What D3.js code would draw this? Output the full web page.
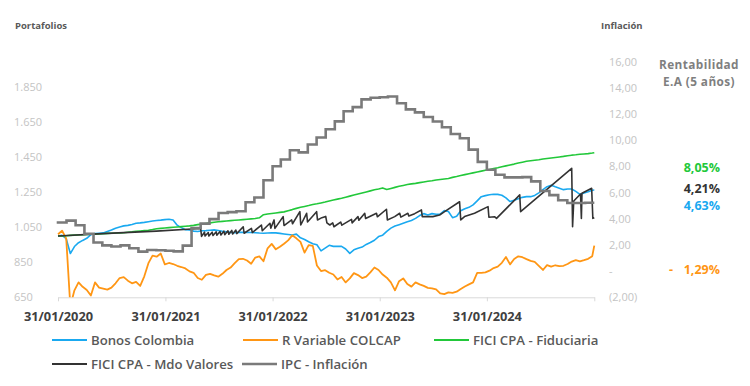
<!DOCTYPE html>
<html>
<head>
<meta charset="utf-8">
<script src="https://cdn.jsdelivr.net/npm/d3@7"></script>
<style>
    body { margin: 0; background: #fff; }
    text { font-family: "Open Sans", sans-serif; }
</style>
</head>
<body>
<div id="chart"></div>
<script>

// ---- data ----

// Portfolio series sampled every 14 days from 31/01/2020, last point = 31/01/2025
const startDate = "2020-01-31";
const endDate = "2025-01-31";
const gridStepDays = 14;

const bonosColombia = [
    1000, 1004, 985, 900, 940, 962, 975, 987, 1008, 1014,
    1016, 1018, 1026, 1034, 1045, 1052, 1058, 1061, 1066, 1073,
    1075, 1078, 1082, 1086, 1089, 1091, 1094, 1096, 1092, 1062,
    1048, 1036, 1035, 1028, 1026, 1030, 1031, 1033, 1035, 1032,
    1027, 1024, 1021, 1019, 1021, 1022, 1021, 1020, 1019, 1017,
    1016, 1017, 1018, 1018, 1015, 1012, 1009, 1006, 1011, 990,
    980, 967, 956, 950, 915, 931, 947, 941, 942, 941,
    926, 901, 921, 930, 937, 952, 963, 976, 997, 1005,
    1027, 1045, 1057, 1065, 1073, 1081, 1089, 1101, 1117, 1128,
    1120, 1128, 1124, 1125, 1145, 1140, 1105, 1113, 1145, 1156,
    1164, 1178, 1201, 1225, 1231, 1236, 1239, 1238, 1233, 1218,
    1197, 1205, 1213, 1221, 1225, 1225, 1232, 1247, 1265, 1282,
    1290, 1281, 1273, 1265, 1269, 1269, 1255, 1238, 1246, 1253,
    1262, 1263
];

const rVariableColcap = [
    1010, 1030, 985, 600, 690, 735, 710, 692, 660, 735,
    705, 700, 694, 705, 730, 760, 765, 745, 730, 738,
    715, 770, 845, 888, 882, 900, 838, 846, 840, 830,
    823, 815, 798, 790, 760, 750, 778, 784, 775, 768,
    784, 806, 820, 845, 868, 870, 860, 842, 877, 884,
    856, 930, 955, 924, 939, 956, 975, 1004, 987, 967,
    905, 948, 944, 832, 800, 805, 790, 780, 752, 766,
    735, 758, 788, 777, 760, 768, 792, 820, 806, 780,
    762, 735, 690, 742, 758, 726, 711, 735, 724, 715,
    704, 701, 695, 672, 668, 678, 675, 682, 698, 712,
    724, 735, 790, 790, 792, 802, 817, 825, 847, 880,
    838, 869, 884, 879, 868, 858, 852, 830, 806, 834,
    825, 833, 828, 830, 840, 854, 862, 855, 862, 870,
    885, 945
];

const ficiFiduciaria = [
    1000, 1001, 1002, 1004, 1005, 1006, 1007, 1009, 1010, 1011,
    1012, 1013, 1015, 1016, 1017, 1018, 1019, 1022, 1024, 1027,
    1029, 1031, 1033, 1037, 1042, 1044, 1046, 1048, 1050, 1052,
    1054, 1056, 1058, 1061, 1065, 1068, 1072, 1075, 1079, 1082,
    1084, 1086, 1088, 1090, 1092, 1094, 1096, 1098, 1100, 1104,
    1122, 1126, 1129, 1132, 1135, 1138, 1145, 1151, 1158, 1164,
    1169, 1174, 1180, 1184, 1189, 1194, 1200, 1206, 1211, 1216,
    1222, 1228, 1234, 1240, 1246, 1252, 1258, 1264, 1269, 1275,
    1266, 1272, 1278, 1284, 1289, 1294, 1298, 1301, 1305, 1309,
    1313, 1316, 1320, 1323, 1326, 1329, 1335, 1340, 1346, 1351,
    1356, 1361, 1366, 1371, 1376, 1380, 1385, 1390, 1396, 1401,
    1406, 1411, 1417, 1422, 1427, 1430, 1433, 1436, 1440, 1443,
    1446, 1449, 1452, 1455, 1459, 1462, 1464, 1467, 1469, 1471,
    1474, 1476
];

// saw-tooth fund, irregular dates
const ficiMdoValores = [
    ["2020-01-31", 1000], ["2020-06-30", 1014], ["2020-12-31", 1028], ["2021-04-30", 1040],
    ["2021-05-31", 1044], ["2021-06-03", 998], ["2021-06-13", 1022], ["2021-06-15", 1000],
    ["2021-06-26", 1020], ["2021-06-28", 1000], ["2021-07-09", 1022], ["2021-07-12", 1003],
    ["2021-07-23", 1024], ["2021-07-25", 1005], ["2021-08-05", 1026], ["2021-08-08", 1006],
    ["2021-08-18", 1028], ["2021-08-21", 1008], ["2021-09-01", 1030], ["2021-09-04", 1010],
    ["2021-09-14", 1032], ["2021-09-17", 1012], ["2021-09-28", 1034], ["2021-10-01", 1014],
    ["2021-10-23", 1053], ["2021-10-26", 1016], ["2021-11-20", 1044], ["2021-11-23", 1020],
    ["2021-12-24", 1063], ["2021-12-27", 1030], ["2022-01-22", 1073], ["2022-01-25", 1045],
    ["2022-02-05", 1092], ["2022-02-08", 1044], ["2022-03-08", 1111], ["2022-03-11", 1060],
    ["2022-04-06", 1092], ["2022-04-09", 1070], ["2022-05-04", 1139], ["2022-05-07", 1063],
    ["2022-05-27", 1130], ["2022-05-30", 1080], ["2022-06-30", 1139], ["2022-07-03", 1092],
    ["2022-07-18", 1105], ["2022-07-31", 1112], ["2022-08-04", 1075], ["2022-08-14", 1063],
    ["2022-08-24", 1075], ["2022-08-28", 1053], ["2022-09-20", 1080], ["2022-09-24", 1062],
    ["2022-10-27", 1095], ["2022-10-29", 1075], ["2022-11-18", 1111], ["2022-11-21", 1090],
    ["2022-12-11", 1130], ["2022-12-14", 1100], ["2023-01-20", 1130], ["2023-01-23", 1110],
    ["2023-02-23", 1153], ["2023-02-26", 1092], ["2023-03-23", 1111], ["2023-04-09", 1130],
    ["2023-04-13", 1108], ["2023-05-07", 1130], ["2023-05-10", 1115], ["2023-05-30", 1128],
    ["2023-06-22", 1149], ["2023-06-25", 1111], ["2023-07-31", 1111], ["2023-08-23", 1120],
    ["2023-09-09", 1139], ["2023-10-30", 1196], ["2023-11-03", 1092], ["2023-11-16", 1111],
    ["2023-12-20", 1130], ["2024-02-04", 1168], ["2024-02-07", 1107], ["2024-02-27", 1110],
    ["2024-03-04", 1101], ["2024-05-22", 1235], ["2024-05-25", 1139], ["2024-11-15", 1387],
    ["2024-11-18", 1053], ["2024-11-22", 1200], ["2024-12-15", 1240], ["2024-12-18", 1101],
    ["2024-12-20", 1244], ["2025-01-22", 1273], ["2025-01-26", 1101], ["2025-01-31", 1105]
];

// IPC (annual inflation, %) for each month Jan-2020 .. Jan-2025, stamped at month end
const ipcInflacion = [
    3.62, 3.72, 3.86, 3.51, 2.85, 2.19, 1.97, 1.88, 1.97, 1.75, 1.49, 1.61,
    1.60, 1.56, 1.51, 1.95, 3.30, 3.63, 3.97, 4.44, 4.51, 4.58, 5.26, 5.62,
    6.94, 8.01, 8.53, 9.23, 9.07, 9.67, 10.21, 10.84, 11.44, 12.22, 12.53, 13.12,
    13.25, 13.28, 13.34, 12.82, 12.36, 12.13, 11.78, 11.43, 10.99, 10.48, 10.15, 9.28,
    8.35, 7.74, 7.36, 7.16, 7.16, 7.18, 6.86, 6.12, 5.81, 5.41, 5.20, 5.20,
    5.22
];

const leftTicks = [650, 850, 1050, 1250, 1450, 1650, 1850];
const rightTicks = [-2, 0, 2, 4, 6, 8, 10, 12, 14, 16];
const xTickDates = ["2020-01-31", "2021-01-31", "2022-01-31", "2023-01-31", "2024-01-31", "2025-01-31"];

const seriesNames = ["Bonos Colombia", "R Variable COLCAP", "FICI CPA - Fiduciaria", "FICI CPA - Mdo Valores", "IPC - Inflación"];
const seriesColors = ["#1aa9f0", "#ff9614", "#22c83a", "#333333", "#7a7a7a"];

const rentabilidad = ["8,05%", "4,21%", "4,63%", "1,29%"];


class PortfolioVis {

    constructor(_parentElement) {
        this.parentElement = _parentElement;
        this.initVis();
    }

    initVis() {
        let vis = this;

        vis.width = 750;
        vis.height = 386;
        vis.plot = { left: 58, right: 594.3, top: 61.7, bottom: 297.3 };

        vis.svg = d3.select("#" + vis.parentElement).append("svg")
            .attr("width", vis.width)
            .attr("height", vis.height);

        vis.parse = d3.timeParse("%Y-%m-%d");

        // Scales
        vis.x = d3.scaleTime()
            .domain([vis.parse(startDate), vis.parse(endDate)])
            .range([vis.plot.left, vis.plot.right]);

        vis.yLeft = d3.scaleLinear()
            .domain([650, 1996])
            .range([vis.plot.bottom, vis.plot.top]);

        vis.yRight = d3.scaleLinear()
            .domain([-2, 16])
            .range([vis.plot.bottom, vis.plot.top]);

        vis.svg.append("clipPath")
            .attr("id", "plot-clip")
            .append("rect")
            .attr("x", vis.plot.left - 2)
            .attr("y", vis.plot.top - 4)
            .attr("width", vis.plot.right - vis.plot.left + 4)
            .attr("height", vis.plot.bottom - vis.plot.top + 4);

        // Axis titles
        vis.svg.append("text")
            .attr("x", 15).attr("y", 28.5)
            .attr("font-size", 9.5).attr("font-weight", 700).attr("fill", "#595959")
            .text("Portafolios");

        vis.svg.append("text")
            .attr("x", 601).attr("y", 28.5)
            .attr("font-size", 9.5).attr("font-weight", 700).attr("fill", "#595959")
            .text("Inflación");

        vis.wrangleData();
    }

    wrangleData() {
        let vis = this;

        let start = vis.parse(startDate);
        let n = bonosColombia.length;
        vis.gridDates = d3.range(n).map(i => i === n - 1 ? vis.parse(endDate) : d3.timeDay.offset(start, i * gridStepDays));

        let toPoints = arr => arr.map((v, i) => ({ date: vis.gridDates[i], value: v }));

        vis.bonos = toPoints(bonosColombia);
        vis.colcap = toPoints(rVariableColcap);
        vis.fiduciaria = toPoints(ficiFiduciaria);
        vis.mdoValores = ficiMdoValores.map(d => ({ date: vis.parse(d[0]), value: d[1] }));

        // month-end stamps
        vis.ipc = ipcInflacion.map((v, i) => ({
            date: d3.timeDay.offset(d3.timeMonth.offset(new Date(2020, 1, 1), i), -1),
            value: v
        }));

        vis.updateVis();
    }

    updateVis() {
        let vis = this;
        let p = vis.plot;

        // left axis (Portafolios), labels left aligned
        let leftFormat = d3.formatLocale({ decimal: ",", thousands: ".", grouping: [3], currency: ["$", ""] }).format(",.0f");
        let yAxisLeft = d3.axisRight(vis.yLeft)
            .tickValues(leftTicks)
            .tickSize(0)
            .tickPadding(0)
            .tickFormat(leftFormat);

        vis.svg.append("g")
            .attr("class", "y-axis-left")
            .attr("transform", "translate(14,0)")
            .call(yAxisLeft)
            .call(g => g.select(".domain").remove())
            .selectAll("text")
            .attr("font-family", "Open Sans")
            .attr("font-size", 11)
            .attr("fill", "#c4c4c4");

        // right axis (Inflación)
        let rightFormat = v => {
            if (v === 0) return "-";
            let s = Math.abs(v).toFixed(2).replace(".", ",");
            return v < 0 ? "(" + s + ")" : s;
        };
        let yAxisRight = d3.axisRight(vis.yRight)
            .tickValues(rightTicks)
            .tickSize(0)
            .tickPadding(0)
            .tickFormat(rightFormat);

        vis.svg.append("g")
            .attr("class", "y-axis-right")
            .attr("transform", "translate(609,0)")
            .call(yAxisRight)
            .call(g => g.select(".domain").remove())
            .selectAll("text")
            .attr("font-family", "Open Sans")
            .attr("font-size", 11)
            .attr("fill", "#c4c4c4");

        // x axis
        let xAxis = d3.axisBottom(vis.x)
            .tickValues(xTickDates.map(vis.parse))
            .tickSizeInner(4)
            .tickSizeOuter(0)
            .tickPadding(11)
            .tickFormat((d, i) => i < xTickDates.length - 1 ? d3.timeFormat("%d/%m/%Y")(d) : "");

        vis.svg.append("g")
            .attr("class", "x-axis")
            .attr("transform", "translate(0," + p.bottom + ")")
            .call(xAxis)
            .call(g => g.selectAll("line, path").attr("stroke", "#d9d9d9"))
            .selectAll("text")
            .attr("font-family", "Open Sans")
            .attr("font-size", 12.8)
            .attr("font-weight", 700)
            .attr("fill", "#404040");

        // lines
        let lineLeft = d3.line()
            .x(d => vis.x(d.date))
            .y(d => vis.yLeft(d.value));

        let lineIpc = d3.line()
            .curve(d3.curveStepBefore)
            .x(d => vis.x(d.date))
            .y(d => vis.yRight(d.value));

        let lines = vis.svg.append("g").attr("clip-path", "url(#plot-clip)");

        let portfolioSeries = [
            { data: vis.bonos, color: seriesColors[0], w: 1.6 },
            { data: vis.colcap, color: seriesColors[1], w: 1.8 },
            { data: vis.fiduciaria, color: seriesColors[2], w: 1.6 },
            { data: vis.mdoValores, color: seriesColors[3], w: 1.6 }
        ];

        lines.selectAll(".portfolio-line")
            .data(portfolioSeries)
            .enter().append("path")
            .attr("class", "portfolio-line")
            .attr("fill", "none")
            .attr("stroke", d => d.color)
            .attr("stroke-width", d => d.w)
            .attr("stroke-linejoin", "round")
            .attr("d", d => lineLeft(d.data));

        lines.append("path")
            .attr("class", "ipc-line")
            .attr("fill", "none")
            .attr("stroke", seriesColors[4])
            .attr("stroke-width", 2.6)
            .attr("d", lineIpc(vis.ipc));

        // legend
        let legendPos = [[52, 340], [243, 340], [434, 340], [52, 364], [242, 364]];
        let legend = vis.svg.append("g").attr("class", "legend");

        let items = legend.selectAll(".legend-item")
            .data(seriesNames)
            .enter().append("g")
            .attr("class", "legend-item")
            .attr("transform", (d, i) => "translate(" + legendPos[i][0] + "," + legendPos[i][1] + ")");

        items.append("line")
            .attr("x1", 0).attr("x2", 35)
            .attr("stroke", (d, i) => seriesColors[i])
            .attr("stroke-width", (d, i) => i === 4 ? 2.6 : 2);

        items.append("text")
            .attr("x", 39)
            .attr("dy", "0.35em")
            .attr("font-size", 13.2)
            .attr("font-weight", 600)
            .attr("fill", "#595959")
            .text(d => d);

        // Rentabilidad column
        vis.svg.append("text")
            .attr("x", 699).attr("y", 69)
            .attr("text-anchor", "middle")
            .attr("font-size", 11.8).attr("font-weight", 700).attr("fill", "#7f7f7f")
            .attr("letter-spacing", 0.4)
            .text("Rentabilidad");

        vis.svg.append("text")
            .attr("x", 699).attr("y", 86)
            .attr("text-anchor", "middle")
            .attr("font-size", 11.8).attr("font-weight", 700).attr("fill", "#7f7f7f")
            .attr("letter-spacing", 0.4)
            .text("E.A (5 años)");

        let rentY = [167.7, 188.7, 205.3, 269.7];
        let rentColors = [seriesColors[2], seriesColors[3], seriesColors[0], seriesColors[1]];

        vis.svg.selectAll(".rent-label")
            .data(rentabilidad)
            .enter().append("text")
            .attr("class", "rent-label")
            .attr("x", 720)
            .attr("y", (d, i) => rentY[i])
            .attr("dy", "0.35em")
            .attr("text-anchor", "end")
            .attr("font-size", 12.5)
            .attr("font-weight", 700)
            .attr("fill", (d, i) => rentColors[i])
            .text(d => d);

        vis.svg.append("text")
            .attr("x", 671)
            .attr("y", rentY[3])
            .attr("dy", "0.35em")
            .attr("text-anchor", "middle")
            .attr("font-size", 12.5)
            .attr("font-weight", 700)
            .attr("fill", seriesColors[1])
            .text("-");
    }
}

let portfolioVis = new PortfolioVis("chart");

</script>
</body>
</html>
